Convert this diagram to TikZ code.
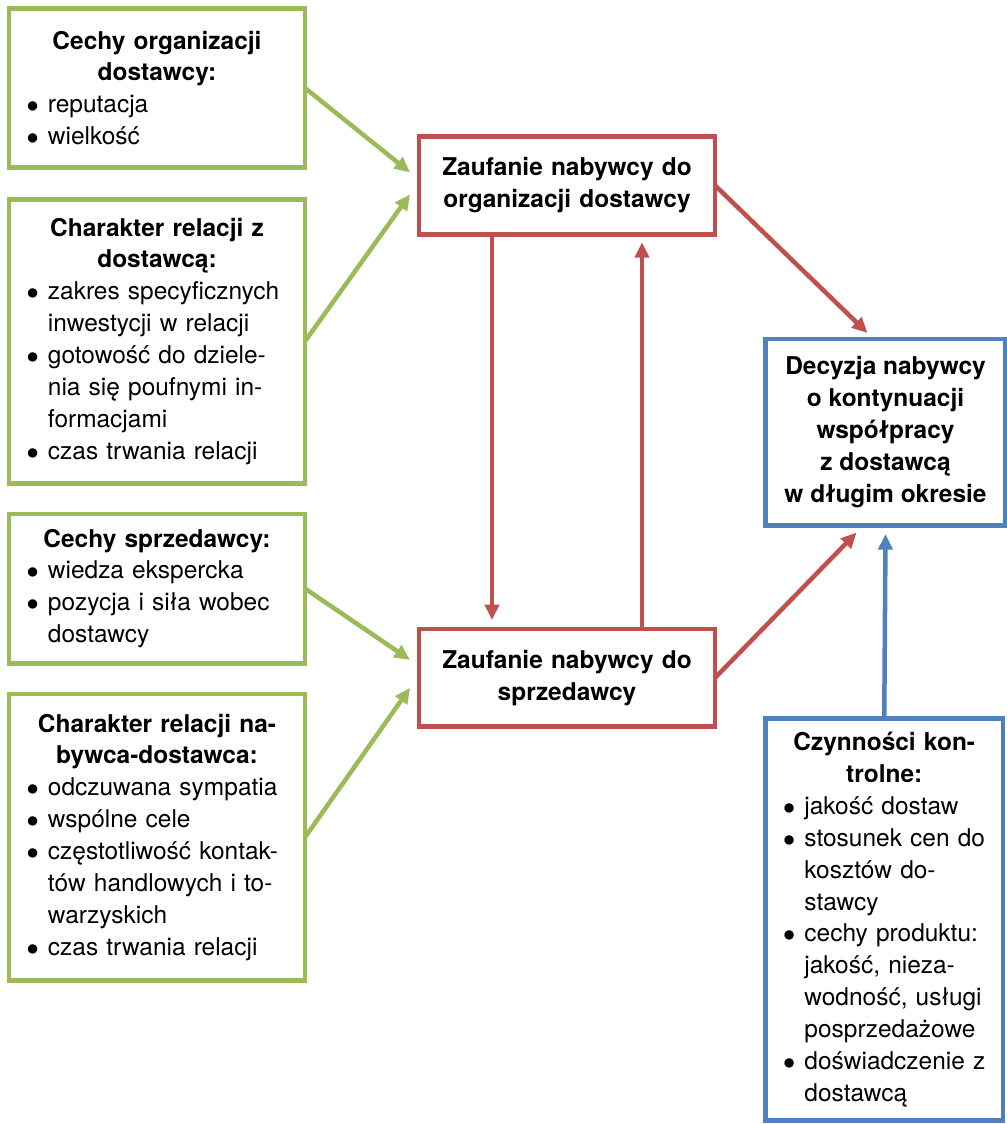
\documentclass[tikz,border=0pt]{standalone}
\usepackage{fontspec}
\setmainfont{TeX Gyre Heros}
\usepackage{tikz}
\usetikzlibrary{arrows.meta,calc}
\definecolor{zielony}{HTML}{9BBB59}
\definecolor{czerwony}{HTML}{C0504D}
\definecolor{niebieski}{HTML}{4F81BD}
\setlength{\parskip}{0pt}
\newcommand{\tekst}{\fontsize{17.4}{22.7}\selectfont}
\newcommand{\naglowek}[1]{{\centering\bfseries #1\par}}
\newcommand{\pkt}[1]{\par\noindent\makebox[14.2pt][l]{\hspace{-1pt}$\bullet$}\mbox{#1}}
\newcommand{\dalej}[1]{\par\noindent\hspace*{14.2pt}\mbox{#1}}
\tikzset{
  ramka/.style={draw,line width=3.5pt,fill=white,anchor=north west,outer sep=0pt,
                inner xsep=13.5pt,inner ysep=0pt,font=\tekst},
  zrodlo/.style={ramka,draw=zielony,text width=183.5pt},
  zaufanie/.style={ramka,draw=czerwony,text width=183.5pt,align=center,font=\tekst\bfseries,
                   minimum height=69.5pt},
  wynik/.style={ramka,draw=niebieski,text width=141.9pt},
  strz/.style={-{Triangle[length=11pt,width=10pt]},line width=3.2pt},
}
\begin{document}
\begin{tikzpicture}[x=0.025cm,y=-0.025cm]
  \useasboundingbox (0,0) rectangle (1006,1124);
  % 1. cechy po lewej
  \node[zrodlo,minimum height=113.1pt] (cechyorg) at (9,8.5)
    {\naglowek{Cechy organizacji\\ dostawcy:}
     \pkt{reputacja}
     \pkt{wielkość}};
  \node[zrodlo,minimum height=201.7pt] (charrel) at (9,199.5)
    {\naglowek{Charakter relacji z\\ dostawcą:}
     \pkt{zakres specyficznych}\dalej{inwestycji w relacji}
     \pkt{gotowość do dziele-}\dalej{nia się poufnymi in-}\dalej{formacjami}
     \pkt{czas trwania relacji}};
  \node[zrodlo,minimum height=106pt] (cechysprz) at (9,514)
    {\naglowek{Cechy sprzedawcy:}
     \pkt{wiedza ekspercka}
     \pkt{pozycja i siła wobec}\dalej{dostawcy}};
  \node[zrodlo,minimum height=203.8pt] (charnab) at (9,694)
    {\naglowek{Charakter relacji na-\\ bywca-dostawca:}
     \pkt{odczuwana sympatia}
     \pkt{wspólne cele}
     \pkt{częstotliwość kontak-}\dalej{tów handlowych i to-}\dalej{warzyskich}
     \pkt{czas trwania relacji}};
  % 2. zaufanie
  \node[zaufanie] (zaufanieorg) at (419,136.5) {Zaufanie nabywcy do\\ organizacji dostawcy};
  \node[zaufanie] (zaufaniesprz) at (419,629) {Zaufanie nabywcy do\\ sprzedawcy};
  % 3. decyzja i kontrola
  \node[ramka,draw=niebieski,align=center,font=\tekst\bfseries,minimum width=168.9pt,
        minimum height=132.7pt] (decyzja) at (765.5,339)
    {Decyzja nabywcy\\ o kontynuacji\\ współpracy\\ z dostawcą\\ w długim okresie};
  \node[wynik,minimum height=286pt] (kontrola) at (765.5,718.5)
    {\naglowek{Czynności kon-\\ trolne:}
     \pkt{jakość dostaw}
     \pkt{stosunek cen do}\dalej{kosztów do-}\dalej{stawcy}
     \pkt{cechy produktu:}\dalej{jakość, nieza-}\dalej{wodność, usługi}\dalej{posprzedażowe}
     \pkt{doświadczenie z}\dalej{dostawcą}};
  % 4. strzalki
  \draw[strz,zielony] (cechyorg.east) -- ($(zaufanieorg.west)+(-9,-13)$);
  \draw[strz,zielony] (charrel.east) -- ($(zaufanieorg.west)+(-9,9)$);
  \draw[strz,zielony] (cechysprz.east) -- ($(zaufaniesprz.west)+(-9,-18)$);
  \draw[strz,zielony] (charnab.east) -- ($(zaufaniesprz.west)+(-9,10)$);
  \draw[strz,czerwony] ($(zaufanieorg.south)+(-75,0)$) -- ($(zaufaniesprz.north)+(-75,-9)$);
  \draw[strz,czerwony] ($(zaufaniesprz.north)+(75,0)$) -- ($(zaufanieorg.south)+(75,8)$);
  \draw[strz,czerwony] (zaufanieorg.east) -- ($(decyzja.north)+(-18,-6)$);
  \draw[strz,czerwony] (zaufaniesprz.east) -- ($(decyzja.south)+(-29,7)$);
  \draw[strz,niebieski] (kontrola.north) -- ($(decyzja.south)+(0,8.5)$);
\end{tikzpicture}
\end{document}
